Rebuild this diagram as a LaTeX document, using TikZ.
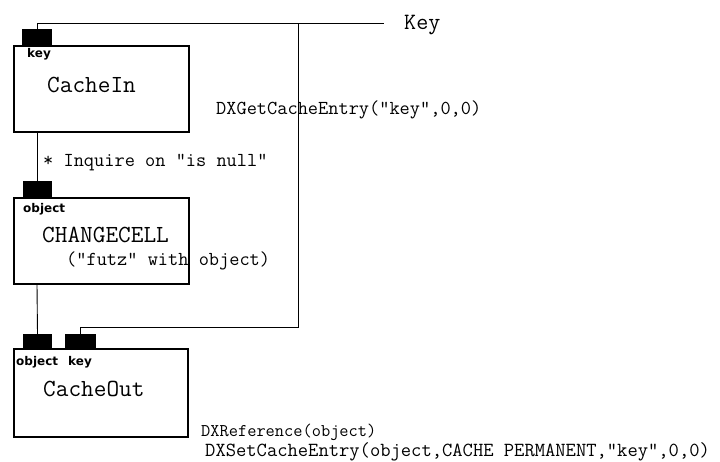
\documentclass[tikz,border=0pt]{standalone}
\usepackage{fontspec}
\newfontfamily\portfont{DejaVu Sans}
\begin{document}
\begin{tikzpicture}[x=1pt,y=-1pt,
  module/.style={draw, line width=1.1pt, minimum width=175pt, minimum height=86pt, inner sep=0pt},
  tab/.style={fill=black, draw=none, minimum width=30pt, minimum height=16pt, inner sep=0pt},
  wire/.style={line width=0.9pt},
  portlbl/.style={font=\portfont\bfseries\fontsize{12}{12}\selectfont, inner sep=0pt, anchor=mid west},
  title/.style={font=\ttfamily\fontsize{24.6}{26}\selectfont, inner sep=0pt, anchor=mid west},
  note/.style={font=\ttfamily\fontsize{19.8}{21}\selectfont, inner sep=0pt, anchor=mid west}]
\useasboundingbox (0,0) rectangle (720,461);

% modules
\node[module] (cachein) at (101.5,89) {};
\node[module] (changecell) at (101.5,241) {};
\node[module, minimum width=174pt, minimum height=88pt] (cacheout) at (101,393) {};

% input tabs
\node[tab, minimum height=17pt] (keyIn) at (37,37.5) {};
\node[tab, minimum width=29pt, minimum height=17pt] (objCC) at (37,189.5) {};
\node[tab, minimum width=29pt, minimum height=15pt] (objOut) at (37.5,341.5) {};
\node[tab, minimum width=31pt, minimum height=15pt] (keyOut) at (80.5,341.5) {};

% port labels
\node[portlbl] (lkeyIn) at (27,55) {key};
\node[portlbl] (lobjCC) at (23,210) {object};
\node[portlbl] (lobjOut) at (16,363) {object};
\node[portlbl] (lkeyOut) at (68,363) {key};

% module names
\node[title] (tIn) at (47,90) {CacheIn};
\node[title] (tCC) at (42,240) {CHANGECELL};
\node[note] (tCC2) at (66,263) {("futz" with object)};
\node[title] (tOut) at (43,394) {CacheOut};

% wiring
\coordinate (keyEnd) at (384,23);
\coordinate (junc) at (298,23);
\coordinate (bend) at (298,327);
\draw[wire] (keyIn.north) |- (keyEnd);
\draw[wire] (junc) -- (bend) -| (keyOut.north);
\draw[wire] (keyIn.north |- cachein.south) -- (objCC.north);
\draw[wire] (objCC.north |- changecell.south) -- (objOut.north);

% annotations
\node[title, font=\ttfamily\fontsize{23.4}{25}\selectfont] (keylbl) at (404,27) {Key};
\node[note] (inq) at (43,164) {* Inquire on "is null"};
\node[note] (get) at (216,112) {DXGetCacheEntry("key",0,0)};
\node[note, font=\ttfamily\fontsize{17.9}{19}\selectfont] (ref) at (201,434) {DXReference(object)};
\node[note, font=\ttfamily\fontsize{20}{21}\selectfont] (set) at (205,454) {DXSetCacheEntry(object,CACHE PERMANENT,"key",0,0)};
\end{tikzpicture}
\end{document}
